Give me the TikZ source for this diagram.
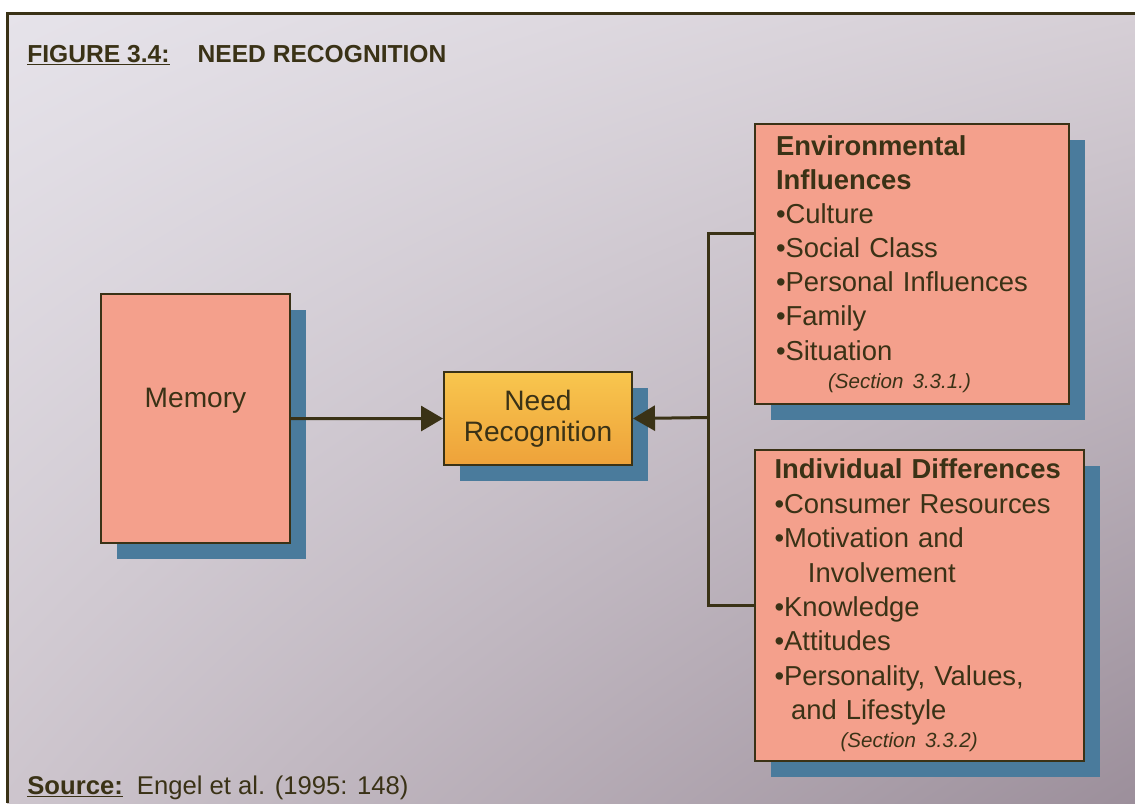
\documentclass[tikz,border=0pt]{standalone}
\usepackage{fontspec}
\setmainfont{Liberation Sans}
\usepackage{tikz}
\usetikzlibrary{arrows.meta, shadows, shadings}

\definecolor{ink}{RGB}{58,50,22}
\definecolor{boxpink}{RGB}{244,160,140}
\definecolor{shadowblue}{RGB}{74,123,156}
\definecolor{goldtop}{RGB}{248,198,78}
\definecolor{goldbot}{RGB}{238,162,58}
\definecolor{bgtl}{RGB}{230,227,234}
\definecolor{bgtr}{RGB}{214,207,214}
\definecolor{bgbl}{RGB}{205,197,205}
\definecolor{bgbr}{RGB}{156,143,155}

% small italic cross-reference under a list
\newcommand\sectionnote[1]{{\fontsize{11.7}{14}\selectfont\itshape #1}}

\begin{document}
\begin{tikzpicture}[x=0.2mm, y=-0.2mm, text=ink,
    box/.style={draw=ink, line width=0.4mm, fill=boxpink, anchor=north west, inner sep=0pt,
        drop shadow={shadow xshift=3.2mm, shadow yshift=-3.2mm, fill=shadowblue, opacity=1}},
    listbox/.style={box, align=left, inner xsep=4.2mm, font=\fontsize{15.6}{19.4}\selectfont},
    conn/.style={draw=ink, line width=0.6mm},
    arr/.style={conn, -{Triangle[length=4.4mm, width=5mm]}}]
    \useasboundingbox (0,0) rectangle (1135,803);
    % page and frame
    \fill[white] (0,0) rectangle (1135,803);
    \shade[upper left=bgtl, upper right=bgtr, lower left=bgbl, lower right=bgbr] (7,13) rectangle (1135,803);
    \draw[ink, line width=0.6mm] (1135,13) -- (7,13) -- (7,803);

    \node[anchor=base west, inner sep=0pt, font=\fontsize{14}{17}\selectfont\bfseries] (title) at (27,62)
        {\underline{FIGURE 3.4:}\hspace{16pt}NEED RECOGNITION};
    \node[anchor=base west, inner sep=0pt, font=\fontsize{14.6}{17}\selectfont] (source) at (27,794)
        {\textbf{\underline{Source:}}\hspace{8pt}Engel et al. (1995: 148)};

    % boxes
    \node[box, minimum width=37.8mm, minimum height=49.8mm, text depth=8.3mm,
        font=\fontsize{16}{19}\selectfont] (mem) at (100,293) {Memory};
    \node[box, top color=goldtop, bottom color=goldbot, minimum width=37.6mm, minimum height=18.6mm,
        align=center, font=\fontsize{16}{17.6}\selectfont] (need) at (443,371) {Need\\Recognition};
    \node[listbox, text width=54.4mm, minimum height=56mm] (env) at (754,123)
        {\textbf{Environmental}\\\textbf{Influences}\\•Culture\\•Social Class\\•Personal Influences\\•Family\\•Situation\\[-3.4pt]
         \hspace*{29.6pt}\sectionnote{(Section 3.3.1.)}};
    \node[listbox, text width=58mm, inner xsep=3.9mm, minimum height=62.2mm,
        font=\fontsize{15.6}{19.6}\selectfont] (ind) at (754,449)
        {\textbf{Individual Differences}\\•Consumer Resources\\•Motivation and\\\hspace*{19pt}Involvement\\•Knowledge\\•Attitudes\\•Personality, Values,\\\hspace*{9.4pt}and Lifestyle\\[-3.6pt]
         \hspace*{37.6pt}\sectionnote{(Section 3.3.2)}};

    % connectors
    \coordinate (fork) at (708,417.5);
    \draw[conn] ([yshift=6.2mm]env.west) -| (fork) |- (ind.west);
    \draw[arr] (fork) -- (need.east);
    \draw[arr] (mem.east) -- (need.west);
\end{tikzpicture}
\end{document}
